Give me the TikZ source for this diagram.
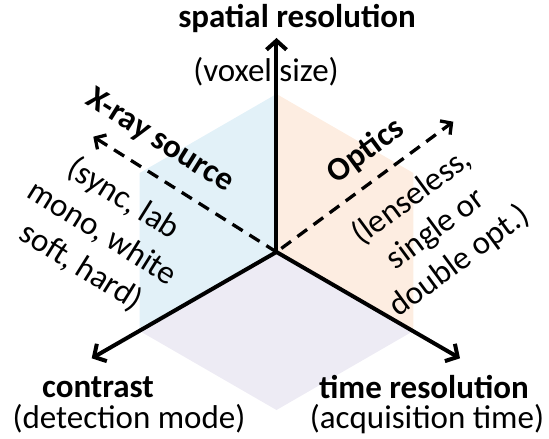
\documentclass[tikz,border=0pt]{standalone}
\usepackage{fontspec}
\setmainfont{Carlito}
\usetikzlibrary{arrows.meta}
\definecolor{xrayblue}{RGB}{226,241,248}
\definecolor{opticpeach}{RGB}{253,237,225}
\definecolor{modelilac}{RGB}{237,235,244}

\tikzset{
  axisline/.style={line width=4pt, -{Straight Barb[length=9pt,width=20pt]}},
  dashaxis/.style={line width=3.3pt, dash pattern=on 12pt off 8pt, -{Straight Barb[length=8pt,width=17pt]}},
  headlbl/.style={font=\fontsize{33}{40}\selectfont\bfseries, inner sep=0pt},
  sublbl/.style={font=\fontsize{33}{40}\selectfont, inner sep=0pt},
}

\begin{document}
\begin{tikzpicture}[x=1pt, y=1pt]
    \useasboundingbox (-276.5,-187) rectangle (272.5,252);

    % faint faces of the hexagon
    \fill[xrayblue] (0,0) -- (90:158) -- ++(210:158) -- (210:158) -- cycle;
    \fill[opticpeach] (0,0) -- (90:158) -- ++(330:158) -- (330:158) -- cycle;
    \fill[modelilac] (0,0) -- (210:158) -- ++(330:158) -- (330:158) -- cycle;

    % end points
    \coordinate (O) at (0,0);
    \coordinate (sp) at (0,214);
    \coordinate (ct) at (-184.8,-106.3);
    \coordinate (tr) at (183.5,-106.3);
    \coordinate (xr) at (-183.2,115.3);
    \coordinate (op) at (176.8,130.3);

    % axes
    \draw[axisline] (O) -- (sp);
    \draw[axisline] (O) -- (ct);
    \draw[axisline] (O) -- (tr);
    \draw[dashaxis] (O) -- (xr);
    \draw[dashaxis, shorten <=6pt] (O) -- (op);

    % axis labels
    \node[headlbl, anchor=base] (spat) at (20.5,224) {spatial resolution};
    \node[sublbl, anchor=base] (voxel) at (-10.5,170) {(voxel size)};
    \node[headlbl, anchor=base] (contr) at (-178.5,-145) {contrast};
    \node[sublbl, anchor=base] (detect) at (-147.5,-176) {(detection mode)};
    \node[headlbl, anchor=base] (timeres) at (147.5,-146) {time resolution};
    \node[sublbl, anchor=base] (acq) at (150.5,-176) {(acquisition time)};

    % parameters along the dashed axes
    \node[headlbl, rotate=-32] (xsrc) at (-117,111) {X-ray source};
    \node[sublbl, align=center, rotate=-32] (xopts) at (-174.2,19.4) {(sync, lab\\mono, white\\soft, hard)};
    \node[headlbl, rotate=36.4] (optics) at (89.5,100.7) {Optics};
    \node[sublbl, align=center, rotate=36.4] (oopts) at (159.3,22.9) {(lenseless,\\single or\\double opt.)};
\end{tikzpicture}
\end{document}
